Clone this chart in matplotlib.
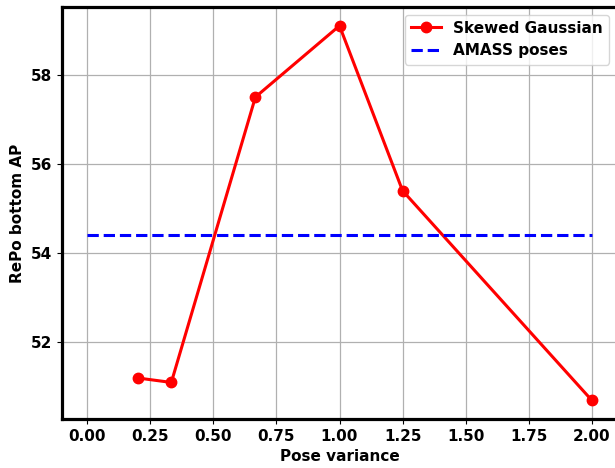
import matplotlib
matplotlib.use("Agg")
import matplotlib.pyplot as plt

# pose variance sweep
variance = [0.2, 1 / 3, 2 / 3, 1.0, 1.25, 2.0]
skewed_ap = [51.2, 51.1, 57.5, 59.1, 55.4, 50.7]
amass_x = [0.0, 2.0]
amass_ap = [54.4, 54.4]

plt.rcParams["font.family"] = "DejaVu Sans"
plt.rcParams["font.weight"] = "bold"
plt.rcParams["font.size"] = 11

fig = plt.figure(figsize=(6.15, 4.68), dpi=100)
ax = fig.add_axes([62 / 615, 49 / 468, 555 / 615, 412 / 468])

ax.plot(variance, skewed_ap, "o-", color="red", linewidth=2.2, markersize=7.5, label="Skewed Gaussian")
ax.plot(amass_x, amass_ap, "--", color="blue", linewidth=2.2, label="AMASS poses")

ax.set_xlim(-0.1, 2.1)
ax.set_ylim(50.28, 59.52)
ax.set_xticks([0, 0.25, 0.5, 0.75, 1.0, 1.25, 1.5, 1.75, 2.0])
ax.set_yticks([52, 54, 56, 58])
ax.grid(True, color="#b0b0b0", linewidth=0.9)
ax.set_xlabel("Pose variance", fontweight="bold")
ax.set_ylabel("RePo bottom AP", fontweight="bold")
for s in ax.spines.values():
    s.set_linewidth(2.3)
ax.legend(loc="upper right")

fig.savefig("out.png", dpi=100)
